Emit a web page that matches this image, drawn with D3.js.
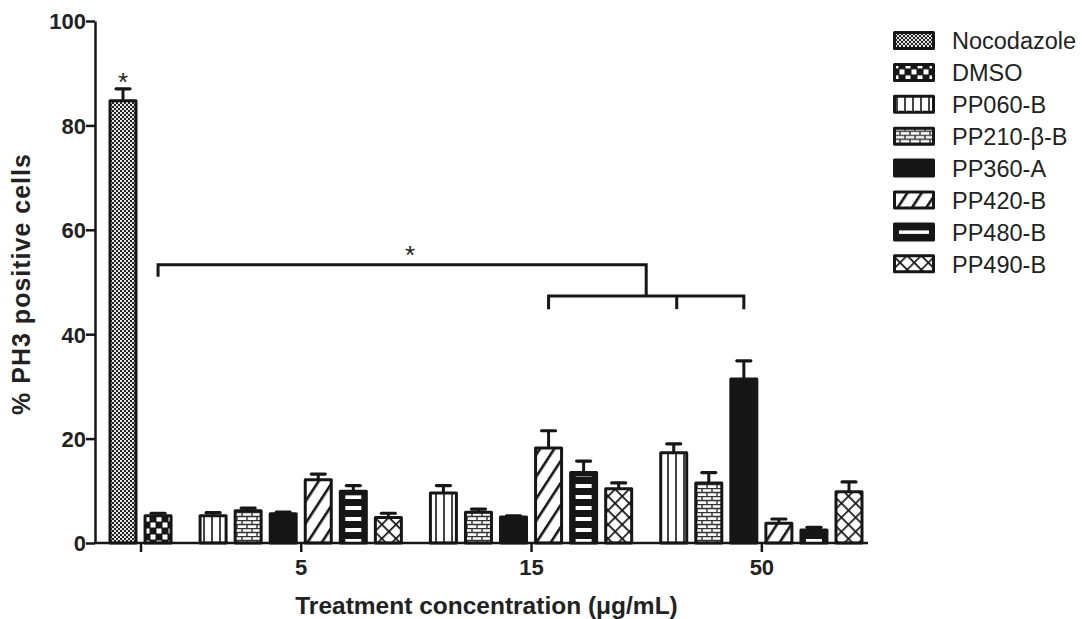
<!DOCTYPE html>
<html>
<head>
<meta charset="utf-8">
<script src="https://cdn.jsdelivr.net/npm/d3@7"></script>
<style>
  body { margin: 0; background: #fff; }
  svg { display: block; font-family: 'Liberation Sans', Arial, sans-serif; }
</style>
</head>
<body>
<svg id="chart" width="1083" height="619"></svg>
<script>
var groups = ['', '5', '15', '50']
var compounds = ['Nocodazole', 'DMSO', 'PP060-B', 'PP210-\u03b2-B', 'PP360-A', 'PP420-B', 'PP480-B', 'PP490-B']
var patternIds = ['noco', 'dmso', 'pp060', 'pp210', 'pp360', 'pp420', 'pp480', 'pp490']

// control group: Nocodazole, DMSO
var controlMeans = [84.7, 5.2]
var controlErr = [2.3, 0.5]
// PP compounds at 5, 15, 50 ug/mL (order PP060-B ... PP490-B)
var means5 = [5.2, 6.2, 5.6, 12.1, 9.9, 4.9]
var err5 = [0.6, 0.5, 0.3, 1.1, 1.1, 0.8]
var means15 = [9.6, 5.9, 5.0, 18.2, 13.5, 10.4]
var err15 = [1.4, 0.6, 0.2, 3.3, 2.2, 1.1]
var means50 = [17.3, 11.5, 31.4, 3.8, 2.5, 9.8]
var err50 = [1.7, 2.0, 3.5, 0.8, 0.5, 1.9]

var yTicks = [0, 20, 40, 60, 80, 100]
// significance bracket levels (% PH3)
var bracketTop = 53.3
var bracketTopDrop = 51.0
var bracketLow = 47.3
var bracketLowDrop = 44.8

var svg = d3.select('#chart')
var ink = '#161616'
var gap = 0.57

// build bar list
var bars = []
var slot = 0
var groupCenters = []
var seriesByGroup = [
  { means: controlMeans, err: controlErr, offset: 0 },
  { means: means5, err: err5, offset: 2 },
  { means: means15, err: err15, offset: 2 },
  { means: means50, err: err50, offset: 2 }
]
seriesByGroup.forEach(function (s, g) {
  var first = slot
  s.means.forEach(function (m, j) {
    bars.push({ group: g, compound: s.offset + j, mean: m, err: s.err[j], slot: slot })
    slot += 1
  })
  groupCenters.push((first + slot - 1) / 2)
  slot += gap
})
var lastSlot = slot - 1 - gap

var x = d3.scaleLinear().domain([0, lastSlot]).range([123, 849])
var y = d3.scaleLinear().domain([0, 100]).range([543, 21])
var barW = 26

/* PATTERNS */
var defs = svg.append('defs')

function pat(id, w, h) {
  return defs.append('pattern').attr('id', id)
    .attr('patternUnits', 'userSpaceOnUse')
    .attr('width', w).attr('height', h)
}

var p = pat('noco', 4, 4)
p.append('rect').attr('width', 4).attr('height', 4).attr('fill', '#222')
p.append('rect').attr('x', 0).attr('y', 0).attr('width', 2).attr('height', 2).attr('fill', '#e4e4e4')
p.append('rect').attr('x', 2).attr('y', 2).attr('width', 2).attr('height', 2).attr('fill', '#e4e4e4')

p = pat('dmso', 12, 12)
p.append('rect').attr('width', 12).attr('height', 12).attr('fill', ink)
p.append('rect').attr('x', 0.5).attr('y', 0.5).attr('width', 5).attr('height', 5).attr('fill', '#fff')
p.append('rect').attr('x', 6.5).attr('y', 6.5).attr('width', 5).attr('height', 5).attr('fill', '#fff')

p = pat('pp060', 8, 8)
p.append('rect').attr('width', 8).attr('height', 8).attr('fill', '#fff')
p.append('rect').attr('x', 3.2).attr('width', 1.6).attr('height', 8).attr('fill', ink)

p = pat('pp210', 10, 8)
p.append('rect').attr('width', 10).attr('height', 8).attr('fill', '#fff')
p.append('path').attr('d', 'M0,0.5H10M0,4.5H10M2,0.5V4.5M7,4.5V8.5')
  .attr('stroke', '#333').attr('stroke-width', 1.4).attr('fill', 'none')

p = pat('pp360', 4, 4)
p.append('rect').attr('width', 4).attr('height', 4).attr('fill', ink)

p = pat('pp420', 12, 12)
p.attr('patternTransform', 'rotate(33)')
p.append('rect').attr('width', 12).attr('height', 12).attr('fill', '#fff')
p.append('rect').attr('x', 0).attr('width', 2.6).attr('height', 12).attr('fill', ink)

p = pat('pp480', 11, 11)
p.append('rect').attr('width', 11).attr('height', 11).attr('fill', '#fff')
p.append('rect').attr('y', 4).attr('width', 11).attr('height', 7).attr('fill', ink)

p = pat('pp490', 10, 10)
p.attr('patternTransform', 'rotate(45)')
p.append('rect').attr('width', 10).attr('height', 10).attr('fill', '#fff')
p.append('path').attr('d', 'M0,0H10M0,0V10').attr('stroke', ink).attr('stroke-width', 3.4)

/* BARS */
var gBars = svg.append('g')

bars.forEach(function (d) {
  var cx = x(d.slot)
  var top = y(d.mean)
  var pid = patternIds[d.compound]
  // error bar (upper only)
  gBars.append('line')
    .attr('x1', cx).attr('x2', cx)
    .attr('y1', top).attr('y2', y(d.mean + d.err))
    .attr('stroke', ink).attr('stroke-width', 3)
  gBars.append('line')
    .attr('x1', cx - 7).attr('x2', cx + 7)
    .attr('y1', y(d.mean + d.err)).attr('y2', y(d.mean + d.err))
    .attr('stroke', ink).attr('stroke-width', 3.2).attr('stroke-linecap', 'round')

  if (pid === 'pp480') {
    gBars.append('rect')
      .attr('x', cx - barW / 2).attr('y', top)
      .attr('width', barW).attr('height', y(0) - top)
      .attr('fill', ink).attr('stroke', ink).attr('stroke-width', 3)
      .attr('stroke-linejoin', 'round')
    gBars.append('rect')
      .attr('x', cx - barW / 2 + 5).attr('y', top + 4)
      .attr('width', barW - 10).attr('height', Math.max(0, y(0) - top - 4))
      .attr('fill', 'url(#pp480)')
  } else {
    gBars.append('rect')
      .attr('x', cx - barW / 2).attr('y', top)
      .attr('width', barW).attr('height', y(0) - top)
      .attr('fill', 'url(#' + pid + ')')
      .attr('stroke', ink).attr('stroke-width', 3)
      .attr('stroke-linejoin', 'round')
  }
})

/* AXES */
var yAxis = d3.axisLeft(y).tickValues(yTicks).tickSize(9).tickSizeOuter(0)
var gy = svg.append('g').attr('transform', 'translate(95,0)').call(yAxis)
gy.select('.domain').attr('stroke', ink).attr('stroke-width', 2.5)
gy.selectAll('.tick line').attr('stroke', ink).attr('stroke-width', 2.5)
gy.selectAll('.tick text')
  .attr('font-size', 22).attr('font-weight', 'bold').attr('fill', '#222')
  .attr('font-family', "'Liberation Sans', Arial, sans-serif").attr('x', -9).attr('dy', '0.36em')

var xAxis = d3.axisBottom(x)
  .tickValues(groupCenters)
  .tickFormat(function (d, i) { return groups[i] })
  .tickSize(9).tickSizeOuter(0)
var gx = svg.append('g').attr('transform', 'translate(0,' + y(0) + ')').call(xAxis)
gx.select('.domain').remove()
gx.append('line')
  .attr('x1', 95).attr('x2', x(lastSlot) + 19)
  .attr('stroke', ink).attr('stroke-width', 2.5)
gx.selectAll('.tick line').attr('stroke', ink).attr('stroke-width', 2.5)
gx.selectAll('.tick text')
  .attr('font-size', 22).attr('font-weight', 'bold').attr('fill', '#222')
  .attr('font-family', "'Liberation Sans', Arial, sans-serif").attr('y', 16)

svg.append('text')
  .attr('x', (95 + x(lastSlot) + 19) / 2 + 5).attr('y', 614)
  .attr('text-anchor', 'middle')
  .attr('font-size', 24.5).attr('font-weight', 'bold').attr('fill', '#222')
  .text('Treatment concentration (\u03bcg/mL)')

svg.append('text')
  .attr('transform', 'translate(30,' + (y(50) + 2) + ') rotate(-90)')
  .attr('text-anchor', 'middle')
  .attr('font-size', 25).attr('font-weight', 'bold').attr('fill', '#222')
  .attr('letter-spacing', 1)
  .text('% PH3 positive cells')

/* SIGNIFICANCE */
var noco = bars[0]
svg.append('text')
  .attr('x', x(noco.slot)).attr('y', y(noco.mean + noco.err) + 2)
  .attr('text-anchor', 'middle')
  .attr('font-size', 26).attr('fill', '#222').text('*')

var dmsoX = x(bars[1].slot)
var lowL = x(bars.find(function (b) { return b.group === 2 && b.compound === 5 }).slot)
var lowM = x(bars.find(function (b) { return b.group === 3 && b.compound === 2 }).slot) + 3
var lowR = x(bars.find(function (b) { return b.group === 3 && b.compound === 4 }).slot)
var topR = (lowL + lowR) / 2

var gSig = svg.append('g').attr('fill', 'none').attr('stroke', ink).attr('stroke-width', 3)
gSig.append('path')
  .attr('d', 'M' + dmsoX + ',' + y(bracketTopDrop) + 'V' + y(bracketTop) + 'H' + topR + 'V' + y(bracketLow))
gSig.append('path')
  .attr('d', 'M' + lowL + ',' + y(bracketLowDrop) + 'V' + y(bracketLow) + 'H' + lowR + 'V' + y(bracketLowDrop))
gSig.append('path')
  .attr('d', 'M' + lowM + ',' + y(bracketLow) + 'V' + y(bracketLowDrop))
svg.append('text')
  .attr('x', (dmsoX + topR) / 2 + 8).attr('y', y(bracketTop) - 1)
  .attr('text-anchor', 'middle')
  .attr('font-size', 26).attr('fill', '#222').text('*')

/* LEGEND */
var legend = svg.append('g').attr('transform', 'translate(893,31)')
compounds.forEach(function (c, i) {
  var row = legend.append('g').attr('transform', 'translate(0,' + (i * 31.9) + ')')
  row.append('rect')
    .attr('x', 1.5).attr('y', 1.5).attr('width', 39).attr('height', 16)
    .attr('fill', 'url(#' + patternIds[i] + ')')
    .attr('stroke', ink).attr('stroke-width', 3).attr('stroke-linejoin', 'round')
  if (patternIds[i] === 'pp480') {
    row.select('rect').attr('fill', ink)
    row.append('rect').attr('x', 6).attr('y', 8).attr('width', 30).attr('height', 3.5).attr('fill', '#fff')
  }
  row.append('text')
    .attr('x', 59).attr('y', 10).attr('dy', '0.36em')
    .attr('font-size', 23.5).attr('fill', '#222')
    .text(c)
})
</script>
</body>
</html>
